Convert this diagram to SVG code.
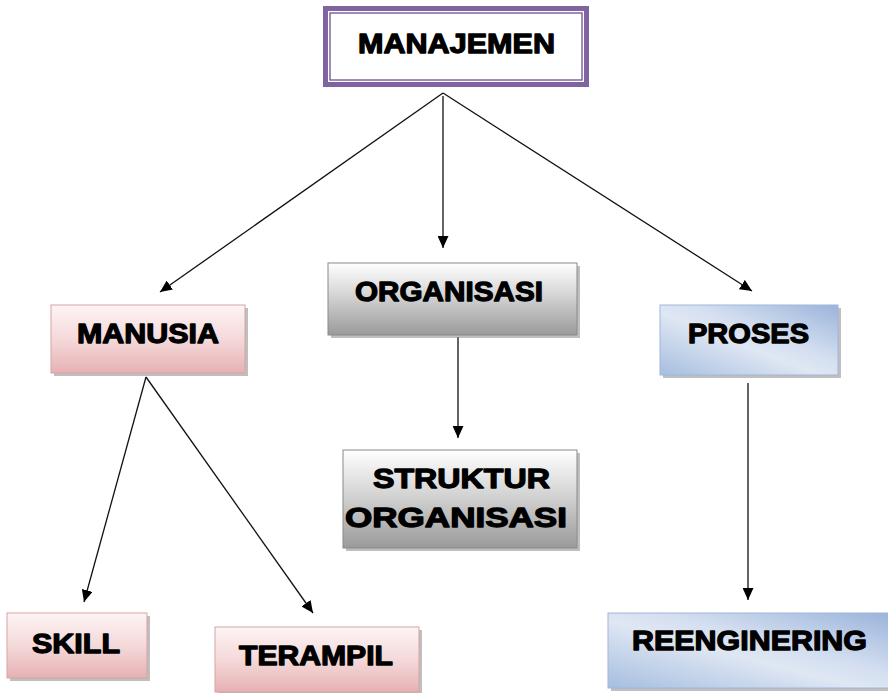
<svg xmlns="http://www.w3.org/2000/svg" width="888" height="693" viewBox="0 0 888 693">
<style>
  .lbl { font-family: "Liberation Sans", Arial, sans-serif; font-weight: bold; font-size: 28.5px; fill: #000; stroke: #000; stroke-width: 1.3; stroke-linejoin: round; }
  .shadow { fill: #8a8a8a; opacity: 0.55; }
  .conn { stroke: #111; stroke-width: 1.3; fill: none; marker-end: url(#arrow); }
  .pink { fill: url(#gPink); stroke: #d9a3a3; stroke-width: 1; }
  .gray { fill: url(#gGray); stroke: #8a8a8a; stroke-width: 1; }
  .blue { fill: url(#gBlue); stroke: #9fb8da; stroke-width: 1; }
</style>
<defs>
  <marker id="arrow" markerUnits="userSpaceOnUse" markerWidth="13" markerHeight="11" refX="12" refY="5.5" orient="auto">
    <path d="M0,0 L12,5.5 L0,11 z" fill="#000"/>
  </marker>
  <linearGradient id="gPink" x1="0" y1="0" x2="0" y2="1">
    <stop offset="0" stop-color="#fdf4f4"/>
    <stop offset="0.5" stop-color="#f5d9da"/>
    <stop offset="1" stop-color="#e6b1b3"/>
  </linearGradient>
  <linearGradient id="gGray" x1="0" y1="0" x2="0" y2="1">
    <stop offset="0" stop-color="#ffffff"/>
    <stop offset="0.45" stop-color="#d4d4d4"/>
    <stop offset="1" stop-color="#9a9a9a"/>
  </linearGradient>
  <linearGradient id="gBlue" x1="0" y1="1" x2="1" y2="0">
    <stop offset="0" stop-color="#a6bee0"/>
    <stop offset="0.45" stop-color="#dfe7f3"/>
    <stop offset="0.6" stop-color="#d3def0"/>
    <stop offset="1" stop-color="#9ab4da"/>
  </linearGradient>
</defs>

<g id="connectors">
  <line class="conn" x1="443" y1="93" x2="160" y2="292"/>
  <line class="conn" x1="443" y1="96" x2="443" y2="248"/>
  <line class="conn" x1="443" y1="93" x2="752" y2="291"/>
  <line class="conn" x1="146" y1="377" x2="84" y2="602"/>
  <line class="conn" x1="146" y1="377" x2="313" y2="613"/>
  <line class="conn" x1="458" y1="337" x2="458" y2="438"/>
  <line class="conn" x1="748" y1="383" x2="748" y2="600"/>
</g>

<g id="manajemen">
  <rect x="325.5" y="8.5" width="261" height="76" fill="#fff" stroke="#8064a2" stroke-width="5"/>
  <rect x="330" y="13" width="252" height="67" fill="none" stroke="#8064a2" stroke-width="1.5"/>
  <text class="lbl" x="358" y="53" textLength="197" lengthAdjust="spacingAndGlyphs">MANAJEMEN</text>
</g>

<g id="manusia">
  <rect class="shadow" x="54" y="308" width="194" height="68"/>
  <rect class="pink" x="51" y="305" width="194" height="68"/>
  <text class="lbl" x="77" y="343" textLength="142" lengthAdjust="spacingAndGlyphs">MANUSIA</text>
</g>

<g id="organisasi">
  <rect class="shadow" x="331" y="266" width="249" height="72"/>
  <rect class="gray" x="328" y="263" width="249" height="72"/>
  <text class="lbl" x="355" y="301" textLength="188" lengthAdjust="spacingAndGlyphs">ORGANISASI</text>
</g>

<g id="struktur">
  <rect class="shadow" x="346" y="453" width="234" height="98"/>
  <rect class="gray" x="343" y="450" width="234" height="98"/>
  <text class="lbl" x="373" y="488" textLength="177" lengthAdjust="spacingAndGlyphs">STRUKTUR</text>
  <text class="lbl" x="345" y="527" textLength="222" lengthAdjust="spacingAndGlyphs">ORGANISASI</text>
</g>

<g id="proses">
  <rect class="shadow" x="663" y="308" width="178" height="70"/>
  <rect class="blue" x="660" y="305" width="178" height="70"/>
  <text class="lbl" x="688" y="343" textLength="121" lengthAdjust="spacingAndGlyphs">PROSES</text>
</g>

<g id="skill">
  <rect class="shadow" x="10" y="616" width="140" height="65"/>
  <rect class="pink" x="7" y="613" width="140" height="65"/>
  <text class="lbl" x="32" y="653" textLength="88" lengthAdjust="spacingAndGlyphs">SKILL</text>
</g>

<g id="terampil">
  <rect class="shadow" x="218" y="630" width="204" height="65"/>
  <rect class="pink" x="215" y="627" width="204" height="65"/>
  <text class="lbl" x="239" y="665" textLength="154" lengthAdjust="spacingAndGlyphs">TERAMPIL</text>
</g>

<g id="reenginering">
  <rect class="shadow" x="611" y="616" width="282" height="75"/>
  <rect class="blue" x="608" y="613" width="282" height="75"/>
  <text class="lbl" x="632" y="650" textLength="235" lengthAdjust="spacingAndGlyphs">REENGINERING</text>
</g>
</svg>
